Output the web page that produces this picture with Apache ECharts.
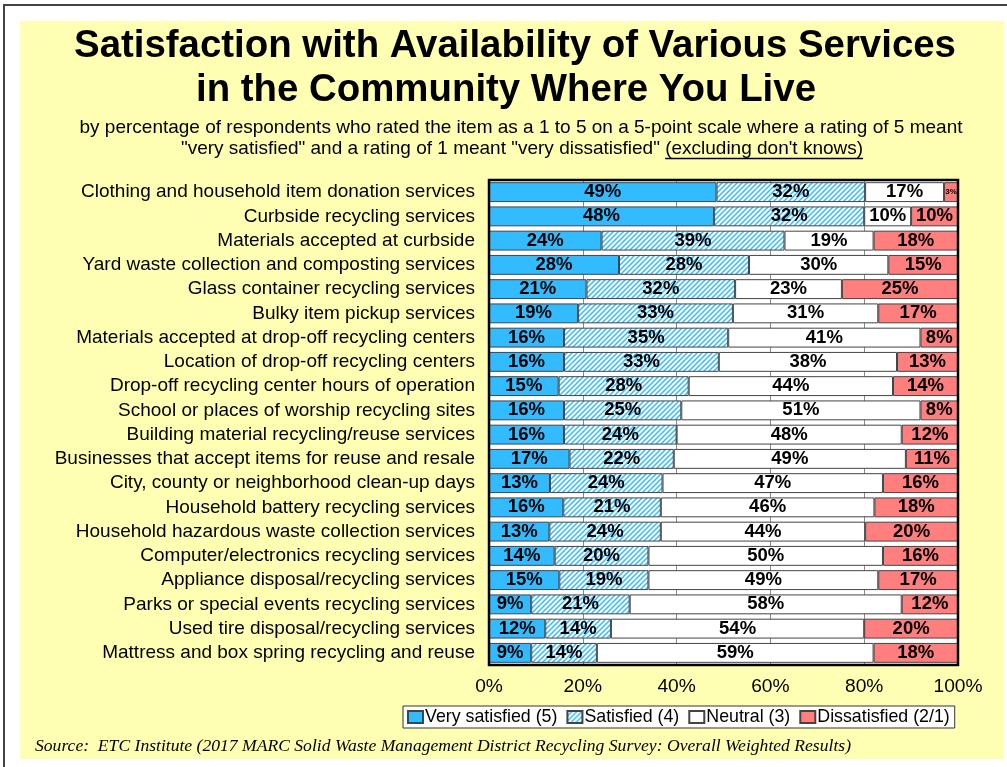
<!DOCTYPE html>
<html>
<head>
<meta charset="utf-8">
<script src="https://cdn.jsdelivr.net/npm/echarts@6/dist/echarts.min.js"></script>
<style>
  html, body { margin: 0; padding: 0; background: #fff; }
  #chart { width: 1007px; height: 767px; }
</style>
</head>
<body>
<div id="chart"></div>
<script>
const categories = [
  'Clothing and household item donation services',
  'Curbside recycling services',
  'Materials accepted at curbside',
  'Yard waste collection and composting services',
  'Glass container recycling services',
  'Bulky item pickup services',
  'Materials accepted at drop-off recycling centers',
  'Location of drop-off recycling centers',
  'Drop-off recycling center hours of operation',
  'School or places of worship recycling sites',
  'Building material recycling/reuse services',
  'Businesses that accept items for reuse and resale',
  'City, county or neighborhood clean-up days',
  'Household battery recycling services',
  'Household hazardous waste collection services',
  'Computer/electronics recycling services',
  'Appliance disposal/recycling services',
  'Parks or special events recycling services',
  'Used tire disposal/recycling services',
  'Mattress and box spring recycling and reuse'
]
const verySatisfied = [49, 48, 24, 28, 21, 19, 16, 16, 15, 16, 16, 17, 13, 16, 13, 14, 15, 9, 12, 9]
const satisfied = [32, 32, 39, 28, 32, 33, 35, 33, 28, 25, 24, 22, 24, 21, 24, 20, 19, 21, 14, 14]
const neutral = [17, 10, 19, 30, 23, 31, 41, 38, 44, 51, 48, 49, 47, 46, 44, 50, 49, 58, 54, 59]
const dissatisfied = [3, 10, 18, 15, 25, 17, 8, 13, 14, 8, 12, 11, 16, 18, 20, 16, 17, 12, 20, 18]
const xTicks = [0, 20, 40, 60, 80, 100]

const subLine1 = 'by percentage of respondents who rated the item as a 1 to 5 on a 5-point scale where a rating of 5 meant'
const subLine2a = '"very satisfied" and a rating of 1 meant "very dissatisfied" '
const subLine2b = '(excluding don\'t knows)'

const ARIAL = 'Arial, "Liberation Sans", sans-serif'

// hatch for "Satisfied"
function hatch () {
  const c = document.createElement('canvas')
  c.width = c.height = 5
  const ctx = c.getContext('2d')
  ctx.fillStyle = '#ffffff'
  ctx.fillRect(0, 0, 5, 5)
  ctx.strokeStyle = '#33bbff'
  ctx.lineWidth = 1.5
  ctx.beginPath()
  ctx.moveTo(0, 5); ctx.lineTo(5, 0)
  ctx.moveTo(-1, 1); ctx.lineTo(1, -1)
  ctx.moveTo(4, 6); ctx.lineTo(6, 4)
  ctx.stroke()
  return c
}

const subFont = '19px ' + ARIAL
const mctx = document.createElement('canvas').getContext('2d')
mctx.font = subFont
const wA = mctx.measureText(subLine2a).width
const wB = mctx.measureText(subLine2b).width
const line2Center = 522
const line2Left = line2Center - (wA + wB) / 2

// 100% stacked: each row's rounded shares are scaled to fill the bar
const rowTotals = categories.map((c, i) =>
  verySatisfied[i] + satisfied[i] + neutral[i] + dissatisfied[i])

const chart = echarts.init(document.getElementById('chart'))

function toData (arr) {
  return arr.map((v, i) => {
    const item = {value: v * 100 / rowTotals[i], raw: v}
    if (v < 5) item.label = {fontSize: 8}
    return item
  })
}

function makeSeries (name, arr, color) {
  return {
    name: name,
    type: 'bar',
    stack: 'total',
    barWidth: '82%',
    data: toData(arr),
    itemStyle: {color: color, borderColor: '#444', borderWidth: 1},
    label: {
      show: true,
      position: 'inside',
      formatter: p => p.data.raw + '%',
      color: '#000',
      fontFamily: ARIAL,
      fontWeight: 'bold',
      fontSize: 18.5
    }
  }
}

chart.setOption({
  animation: false,
  backgroundColor: '#fff',
  graphic: [
    {type: 'rect', z: -10, shape: {x: 20, y: 21, width: 984, height: 738}, style: {fill: '#ffffb3'}},
    {type: 'polyline', z: -9, shape: {points: [[4, 768], [4, 5], [1008, 5]]}, style: {stroke: '#444', lineWidth: 2, fill: null}},
    {type: 'text', x: 515, y: 46, style: {text: 'Satisfaction with Availability of Various Services', font: 'bold 38.4px ' + ARIAL, fill: '#000', align: 'center', verticalAlign: 'middle'}},
    {type: 'text', x: 506, y: 90, style: {text: 'in the Community Where You Live', font: 'bold 38.4px ' + ARIAL, fill: '#000', align: 'center', verticalAlign: 'middle'}},
    {type: 'text', x: 521, y: 128, style: {text: subLine1, font: subFont, fill: '#000', align: 'center', verticalAlign: 'middle'}},
    {type: 'text', x: line2Left, y: 149, style: {text: subLine2a + subLine2b, font: subFont, fill: '#000', align: 'left', verticalAlign: 'middle'}},
    {type: 'line', shape: {x1: line2Left + wA, y1: 158.5, x2: line2Left + wA + wB, y2: 158.5}, style: {stroke: '#000', lineWidth: 1.5}},
    {type: 'rect', z: 100, shape: {x: 489, y: 180, width: 469, height: 485}, style: {fill: null, stroke: '#000', lineWidth: 2.5}},
    {type: 'text', x: 35, y: 746, style: {text: 'Source:  ETC Institute (2017 MARC Solid Waste Management District Recycling Survey: Overall Weighted Results)', font: 'italic 17.6px "Times New Roman", "Liberation Serif", serif', fill: '#000', align: 'left', verticalAlign: 'middle'}}
  ],
  grid: {
    left: 489,
    right: 49,
    top: 180,
    bottom: 102,
    show: true,
    backgroundColor: '#fff',
    borderWidth: 0
  },
  legend: {
    left: 403,
    top: 706,
    padding: [2, 5, 2, 4],
    backgroundColor: '#fff',
    borderColor: '#333',
    borderWidth: 1,
    icon: 'rect',
    itemWidth: 15,
    itemHeight: 12,
    itemGap: 9,
    textStyle: {color: '#000', fontSize: 17.8, fontFamily: ARIAL, padding: [0, 0, 0, -3]},
    data: ['Very satisfied (5)', 'Satisfied (4)', 'Neutral (3)', 'Dissatisfied (2/1)']
  },
  xAxis: {
    type: 'value',
    min: xTicks[0],
    max: xTicks[xTicks.length - 1],
    interval: xTicks[1] - xTicks[0],
    axisLine: {show: false},
    axisTick: {show: false},
    splitLine: {lineStyle: {color: '#888', width: 1}},
    axisLabel: {
      formatter: '{value}%',
      color: '#000',
      fontSize: 19.2,
      fontFamily: ARIAL,
      margin: 12
    }
  },
  yAxis: {
    type: 'category',
    inverse: true,
    data: categories,
    axisLine: {show: false},
    axisTick: {show: false},
    axisLabel: {
      interval: 0,
      color: '#000',
      fontSize: 19,
      fontFamily: ARIAL,
      margin: 14
    }
  },
  series: [
    makeSeries('Very satisfied (5)', verySatisfied, '#33bbff'),
    makeSeries('Satisfied (4)', satisfied, {image: hatch(), repeat: 'repeat'}),
    makeSeries('Neutral (3)', neutral, '#ffffff'),
    makeSeries('Dissatisfied (2/1)', dissatisfied, '#ff7f7f')
  ]
})
</script>
</body>
</html>
